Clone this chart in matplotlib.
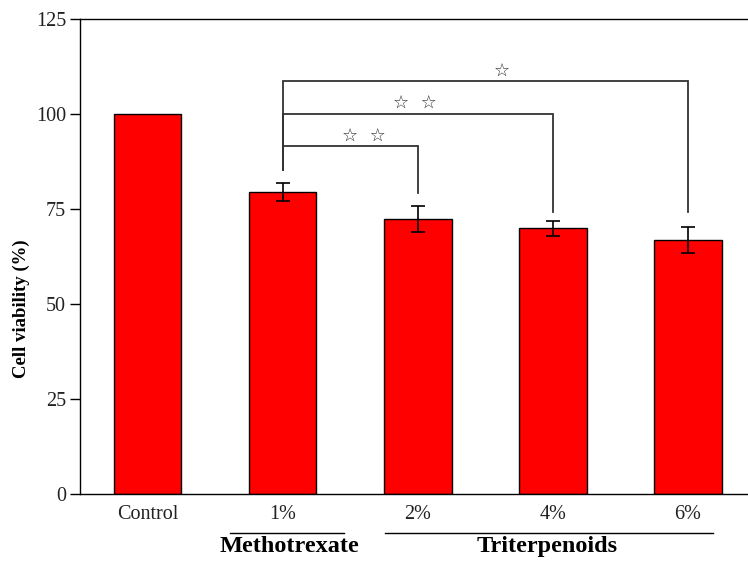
import numpy as np
import matplotlib.pyplot as plt
import matplotlib.transforms as mtransforms

# bar data
groups = ["Control", "1%", "2%", "4%", "6%"]
viability = [100.0, 79.5, 72.4, 69.9, 66.9]
errors = [0.0, 2.3, 3.5, 2.05, 3.4]

# significance brackets: (left bar, right bar, height, left foot, right foot, star x, stars)
brackets = [
    (1, 2, 91.5, 85.3, 79.1, 1.60, "☆  ☆"),
    (1, 3, 100.1, 85.3, 74.3, 1.98, "☆  ☆"),
    (1, 4, 108.6, 85.3, 74.3, 2.62, "☆"),
]

plt.rcParams['font.family'] = ['Liberation Serif', 'DejaVu Serif']

fig = plt.figure(figsize=(7.48, 5.68), dpi=100)
ax = fig.add_axes([0.107, 0.1303, 0.893, 0.8362])

x = np.arange(len(groups))
ax.bar(x, viability, width=0.5, color='#ff0000', edgecolor='black', linewidth=1.0, zorder=2)
ax.errorbar(x[1:], viability[1:], yerr=errors[1:], fmt='none', ecolor='black',
            elinewidth=1.2, capsize=5, capthick=1.2, zorder=3)

# brackets with stars
for left, right, h, lfoot, rfoot, sx, stars in brackets:
    ax.plot([left, left, right, right], [lfoot, h, h, rfoot], color='#333333', lw=1.3,
            solid_joinstyle='miter', zorder=1)
    ax.text(sx, h + 0.5, stars, ha='center', va='bottom', fontsize=13, color='#333333',
            family=['DejaVu Sans'])

ax.set_xlim(-0.5, 4.444)
ax.set_ylim(0, 125)
ax.set_yticks([0, 25, 50, 75, 100, 125])
ax.set_xticks(x)
ax.set_xticklabels(groups)
ax.tick_params(axis='x', length=0, pad=8, labelsize=14.5)
ax.tick_params(axis='y', direction='out', length=7, width=1, pad=3, labelsize=14.5)
for lab in ax.get_xticklabels() + ax.get_yticklabels():
    lab.set_color('#222222')

ax.spines['right'].set_visible(False)
for s in ['left', 'top', 'bottom']:
    ax.spines[s].set_linewidth(1.0)

ax.set_ylabel("Cell viability (%)", fontsize=13.5, fontweight='bold')
ax.yaxis.set_label_coords(-0.075, 0.39)

# group labels below the tick labels
trans = mtransforms.blended_transform_factory(ax.transData, ax.transAxes)
ax.plot([0.613, 1.452], [-0.0815, -0.0815], color='black', lw=1.0, transform=trans, clip_on=False)
ax.plot([1.76, 4.185], [-0.0815, -0.0815], color='black', lw=1.0, transform=trans, clip_on=False)
ax.text(1.05, -0.111, "Methotrexate", transform=trans, ha='center', va='center',
        fontsize=17.5, fontweight='bold')
ax.text(2.96, -0.111, "Triterpenoids", transform=trans, ha='center', va='center',
        fontsize=17.5, fontweight='bold')

fig.savefig("out.png", dpi=100)
